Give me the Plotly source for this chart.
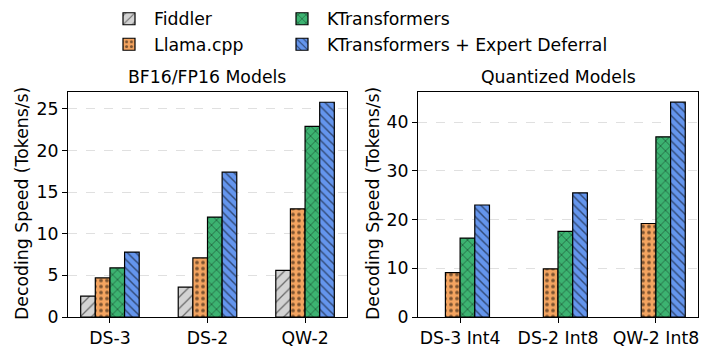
import plotly.graph_objects as go

W, H = 714, 354

# ---------------- data ----------------
cats_full = ["DS-3", "DS-2", "QW-2"]
cats_quant = ["DS-3 Int4", "DS-2 Int8", "QW-2 Int8"]

series_names = ["Fiddler", "Llama.cpp", "KTransformers", "KTransformers + Expert Deferral"]

full_fiddler = [2.5, 3.6, 5.6]
full_llama = [4.7, 7.1, 13.0]
full_kt = [5.9, 12.0, 22.9]
full_kted = [7.8, 17.4, 25.8]

quant_fiddler = [None, None, None]
quant_llama = [9.1, 9.9, 19.2]
quant_kt = [16.2, 17.6, 37.0]
quant_kted = [23.0, 25.5, 44.1]

left_title = "BF16/FP16 Models"
right_title = "Quantized Models"
y_label = "Decoding Speed (Tokens/s)"

# ---------------- styles ----------------
colors = ["#D3D3D3", "#F4A460", "#3CB371", "#6495ED"]
shapes = ["/", ".", "x", "\\"]
psizes = [8, 6, 7, 6]
psolid = [0.16, 0.3, 0.2, 0.24]
legend_ids = ["legend", "legend", "legend2", "legend2"]
FONT = "DejaVu Sans"
FS = 17.3

fig = go.Figure()

full_data = [full_fiddler, full_llama, full_kt, full_kted]
quant_data = [quant_fiddler, quant_llama, quant_kt, quant_kted]

for i, name in enumerate(series_names):
    mk = dict(
        color=colors[i],
        line=dict(color="black", width=1.2),
        pattern=dict(shape=shapes[i], fgcolor="black", bgcolor=colors[i],
                     size=psizes[i], solidity=psolid[i], fillmode="overlay"),
    )
    fig.add_trace(go.Bar(x=cats_full, y=full_data[i], name=name, marker=mk,
                         xaxis="x", yaxis="y", legend=legend_ids[i],
                         showlegend=True))
    fig.add_trace(go.Bar(x=cats_quant, y=quant_data[i], name=name, marker=mk,
                         xaxis="x2", yaxis="y2", showlegend=False))

def px_x(p):
    return p / W

def px_y(p):
    return 1 - p / H

axis_common = dict(
    showline=True, mirror=True, linecolor="black", linewidth=1.2,
    ticks="outside", ticklen=5, tickwidth=1.2, tickcolor="black",
    tickfont=dict(family=FONT, size=FS, color="black"),
    automargin=False, zeroline=False,
)

fig.update_layout(
    width=W, height=H,
    margin=dict(l=0, r=0, t=0, b=0),
    paper_bgcolor="white", plot_bgcolor="white",
    barmode="group", bargap=0.4, bargroupgap=0.0,
    font=dict(family=FONT, size=FS, color="black"),
    xaxis=dict(domain=[px_x(68), px_x(347)], range=[-0.43, 2.43],
               showgrid=False, anchor="y", **axis_common),
    yaxis=dict(domain=[px_y(317), px_y(91.5)], range=[0, 27.09],
               tickvals=[0, 5, 10, 15, 20, 25],
               showgrid=True, gridcolor="rgba(0,0,0,0.12)", griddash="dash",
               gridwidth=1, anchor="x", **axis_common),
    xaxis2=dict(domain=[px_x(418), px_x(698)], range=[-0.43, 2.43],
                showgrid=False, anchor="y2", **axis_common),
    yaxis2=dict(domain=[px_y(317), px_y(91.5)], range=[0, 46.3],
                tickvals=[0, 10, 20, 30, 40],
                showgrid=True, gridcolor="rgba(0,0,0,0.12)", griddash="dash",
                gridwidth=1, anchor="x2", **axis_common),
    legend=dict(x=px_x(104), y=px_y(1), xanchor="left", yanchor="top",
                orientation="v", bgcolor="rgba(0,0,0,0)",
                font=dict(family=FONT, size=FS), itemwidth=40, tracegroupgap=0),
    legend2=dict(x=px_x(277), y=px_y(1), xanchor="left", yanchor="top",
                 orientation="v", bgcolor="rgba(0,0,0,0)",
                 font=dict(family=FONT, size=FS), itemwidth=40, tracegroupgap=0),
    annotations=[
        dict(text=left_title, x=(px_x(68) + px_x(347)) / 2, y=px_y(77),
             xref="paper", yref="paper", showarrow=False,
             font=dict(family=FONT, size=FS), xanchor="center", yanchor="middle"),
        dict(text=right_title, x=(px_x(418) + px_x(698)) / 2, y=px_y(77),
             xref="paper", yref="paper", showarrow=False,
             font=dict(family=FONT, size=FS), xanchor="center", yanchor="middle"),
        dict(text=y_label, x=px_x(22), y=px_y(204), textangle=-90,
             xref="paper", yref="paper", showarrow=False,
             font=dict(family=FONT, size=FS), xanchor="center", yanchor="middle"),
        dict(text=y_label, x=px_x(373), y=px_y(204), textangle=-90,
             xref="paper", yref="paper", showarrow=False,
             font=dict(family=FONT, size=FS), xanchor="center", yanchor="middle"),
    ],
)

fig.write_html("out.html")
